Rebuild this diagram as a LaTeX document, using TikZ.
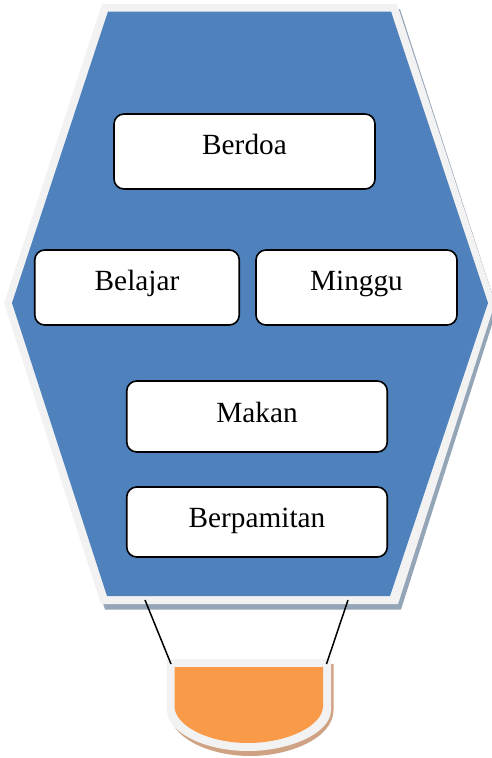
\documentclass[tikz,border=0pt]{standalone}
\usepackage{fontspec}
\setmainfont{Liberation Serif}
\definecolor{balonblue}{HTML}{4F81BD}
\definecolor{balonedge}{HTML}{F2F2F2}
\definecolor{balonshade}{HTML}{95A5B8}
\definecolor{cuporange}{HTML}{F99A48}
\definecolor{cupshade}{HTML}{CFA283}
\tikzset{
  kotak/.style={draw, line width=1.6pt, fill=white, rounded corners=10pt, inner sep=0pt,
    font=\fontsize{29.3}{30}\selectfont}
}
\begin{document}
\begin{tikzpicture}[x=1pt,y=-1pt]
    \useasboundingbox (0,0) rectangle (491,758);
    % balloon
    \fill [balonshade] (105,9)--(400,9)--(497,309)--(401,609.5)--(105,609.5)--(7,309)--cycle;
    \fill [balonedge] (102,4)--(397,4)--(495,303)--(398,604)--(101,604)--(4,303)--cycle;
    \fill [balonblue] (108,11.5)--(391,11.5)--(488,303)--(390,596)--(107,596)--(12,303)--cycle;
    % basket
    \fill [cupshade] (169,664)--(333.5,664)--(333.5,710) .. controls (333.5,738) and (290,756) .. (250,756)
      .. controls (210,756) and (169,738) .. (169,710)--cycle;
    \fill [balonedge] (167,659)--(331,659)--(331,710) .. controls (331,733) and (290,751) .. (248,751)
      .. controls (206,751) and (167,733) .. (167,710)--cycle;
    \fill [cuporange] (174.5,667)--(323,667)--(323,706) .. controls (323,726) and (287,743) .. (248,743)
      .. controls (209,743) and (174.5,726) .. (174.5,706)--cycle;
    % boxes
    \node (berdoa) [kotak, minimum width=261pt, text height=40pt, text depth=35pt] at (244.5,151.5) {Berdoa};
    \node (belajar) [kotak, minimum width=204.5pt, text height=40pt, text depth=35pt] at (137,287.5) {Belajar};
    \node (minggu) [kotak, minimum width=201pt, text height=40pt, text depth=35pt] at (356.5,287.5) {Minggu};
    \node (makan) [kotak, minimum width=260.5pt, text height=41pt, text depth=30pt] at (257,416.5) {Makan};
    \node (berpamitan) [kotak, minimum width=260.5pt, text height=40pt, text depth=30pt] at (257,522) {Berpamitan};
    % ropes
    \coordinate (talikiriatas) at (145,600);
    \coordinate (talikiribawah) at (171,664);
    \coordinate (talikananatas) at (348,600);
    \coordinate (talikananbawah) at (326.5,664);
    \draw [line width=1.5pt] (talikiriatas)--(talikiribawah);
    \draw [line width=1.5pt] (talikananatas)--(talikananbawah);
\end{tikzpicture}
\end{document}
